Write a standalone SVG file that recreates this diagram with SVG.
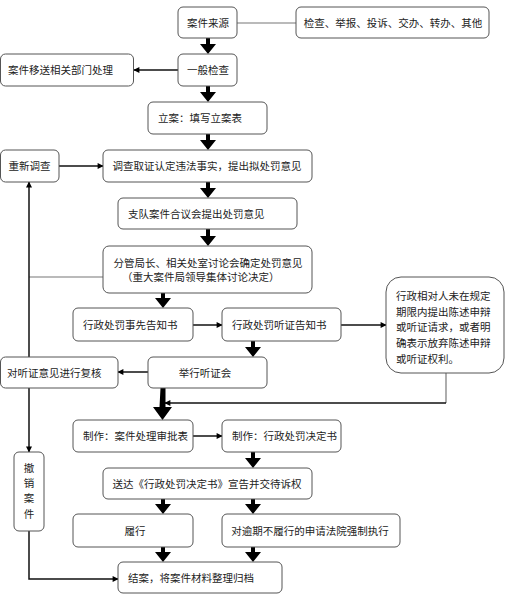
<svg xmlns="http://www.w3.org/2000/svg" width="510" height="594" viewBox="0 0 510 594">
<style>
.b{fill:#fff;stroke:#555;stroke-width:1}
.t{font-family:"Noto Sans CJK SC","Liberation Sans",sans-serif;font-size:10.5px;fill:#222}
.c{text-anchor:middle}
.l{fill:none;stroke:#111;stroke-width:1.5}
.g{fill:none;stroke:#777;stroke-width:1.2}
.k{fill:#000}
</style>
<defs>
<marker id="a" viewBox="0 0 10 10" refX="9" refY="5" markerWidth="7" markerHeight="6" markerUnits="userSpaceOnUse" orient="auto">
<path d="M0,0L10,5L0,10z" fill="#000"/>
</marker>
</defs>
<rect width="510" height="594" fill="#fff"/>
<g id="connectors">
<line class="g" x1="237" y1="23" x2="296" y2="23"/>
<line class="l" x1="178" y1="70" x2="134" y2="70" stroke-width="2" marker-end="url(#a)"/>
<line class="l" x1="59" y1="166" x2="103" y2="166" marker-end="url(#a)"/>
<line class="l" x1="193" y1="325" x2="222" y2="325" marker-end="url(#a)"/>
<line class="l" x1="341" y1="325" x2="386" y2="325" marker-end="url(#a)"/>
<line class="l" x1="148" y1="372" x2="118" y2="372" marker-end="url(#a)"/>
<line class="l" x1="193" y1="436" x2="222" y2="436" marker-end="url(#a)"/>
<line class="g" x1="446" y1="373" x2="446" y2="403"/>
<polyline class="l" points="446,403 165,403" stroke-width="2" marker-end="url(#a)"/>
<line class="g" x1="29" y1="277" x2="103" y2="277"/>
<line class="l" x1="29" y1="357" x2="29" y2="182" stroke="#444" marker-end="url(#a)"/>
<line class="l" x1="29" y1="388" x2="29" y2="452" stroke="#444" marker-end="url(#a)"/>
<polyline class="l" points="29,531 29,579 118,579" stroke="#444" marker-end="url(#a)"/>
<g class="k">
<path d="M206,38h4v6h6l-8,10l-8,-10h6z"/>
<path d="M206,86h4v6h6l-8,10l-8,-10h6z"/>
<path d="M206,134h4v6h6l-8,10l-8,-10h6z"/>
<path d="M206,182h4v6h6l-8,10l-8,-10h6z"/>
<path d="M206,229h4v7h6l-8,10l-8,-10h6z"/>
<path d="M161,293h4v5h6l-8,10l-8,-10h6z"/>
<path d="M251,341h4v6h6l-8,10l-8,-10h6z"/>
<path d="M160.5,388h5v19h6.5l-9.5,13l-9.5,-13h6.5z"/>
<path d="M251,452h4v6h6l-8,10l-8,-10h6z"/>
<path d="M161,499h4v5h6l-8,10l-8,-10h6z"/>
<path d="M251,499h4v5h6l-8,10l-8,-10h6z"/>
<path d="M161,547h4v5h6l-8,10l-8,-10h6z"/>
<path d="M251,547h4v5h6l-8,10l-8,-10h6z"/>
</g>
</g>
<g id="n1"><rect class="b" x="178" y="7" width="59" height="31" rx="5"/><text class="t c" x="208" y="26.5">案件来源</text></g>
<g id="n2"><rect class="b" x="296" y="7" width="193" height="31" rx="5"/><text class="t c" x="393" y="26.5">检查、举报、投诉、交办、转办、其他</text></g>
<g id="n3"><rect class="b" x="178" y="54" width="59" height="32" rx="5"/><text class="t c" x="208" y="74">一般检查</text></g>
<g id="n4"><rect class="b" x="0.5" y="54" width="133" height="32" rx="5"/><text class="t" x="8" y="74">案件移送相关部门处理</text></g>
<g id="n5"><rect class="b" x="148" y="102" width="119" height="32" rx="5"/><text class="t" x="158" y="122">立案：填写立案表</text></g>
<g id="n6"><rect class="b" x="0.5" y="150" width="58.5" height="32" rx="5"/><text class="t c" x="29.5" y="170">重新调查</text></g>
<g id="n7"><rect class="b" x="103" y="150" width="209" height="32" rx="5"/><text class="t c" x="207" y="170">调查取证认定违法事实，提出拟处罚意见</text></g>
<g id="n8"><rect class="b" x="118" y="198" width="179" height="31" rx="5"/><text class="t" x="128" y="217.5">支队案件合议会提出处罚意见</text></g>
<g id="n9"><rect class="b" x="103" y="246" width="209" height="47" rx="6"/><text class="t c" x="208" y="267">分管局长、相关处室讨论会确定处罚意见</text><text class="t" x="122" y="281">（重大案件局领导集体讨论决定）</text></g>
<g id="n10"><rect class="b" x="73" y="308" width="120" height="33" rx="5"/><text class="t" x="83" y="328.5">行政处罚事先告知书</text></g>
<g id="n11"><rect class="b" x="222" y="308" width="119" height="33" rx="5"/><text class="t" x="232" y="328.5">行政处罚听证告知书</text></g>
<g id="n12"><rect class="b" x="386" y="277" width="118" height="96" rx="15"/>
<text class="t" x="396" y="300">行政相对人未在规定</text>
<text class="t" x="396" y="316">期限内提出陈述申辩</text>
<text class="t" x="396" y="331">或听证请求，或者明</text>
<text class="t" x="396" y="347">确表示放弃陈述申辩</text>
<text class="t" x="396" y="363">或听证权利。</text></g>
<g id="n13"><rect class="b" x="148" y="357" width="119" height="31" rx="5"/><text class="t c" x="205" y="376.5">举行听证会</text></g>
<g id="n14"><rect class="b" x="0.5" y="357" width="117.5" height="31" rx="5"/><text class="t" x="7" y="376.5">对听证意见进行复核</text></g>
<g id="n15"><rect class="b" x="73" y="420" width="120" height="32" rx="5"/><text class="t" x="83" y="440">制作：案件处理审批表</text></g>
<g id="n16"><rect class="b" x="222" y="420" width="119" height="32" rx="5"/><text class="t" x="232" y="440">制作：行政处罚决定书</text></g>
<g id="n17"><rect class="b" x="14" y="452" width="30" height="79" rx="5"/>
<text class="t c" x="29" y="472">撤</text><text class="t c" x="29" y="487">销</text><text class="t c" x="29" y="502">案</text><text class="t c" x="29" y="518">件</text></g>
<g id="n18"><rect class="b" x="103" y="468" width="209" height="31" rx="5"/><text class="t c" x="207" y="487.5">送达《行政处罚决定书》宣告并交待诉权</text></g>
<g id="n19"><rect class="b" x="73" y="514" width="120" height="33" rx="5"/><text class="t c" x="135" y="534.5">履行</text></g>
<g id="n20"><rect class="b" x="222" y="514" width="178" height="33" rx="5"/><text class="t c" x="310" y="534.5">对逾期不履行的申请法院强制执行</text></g>
<g id="n21"><rect class="b" x="118" y="562" width="164" height="31" rx="5"/><text class="t" x="128" y="582">结案，将案件材料整理归档</text></g>
</svg>
